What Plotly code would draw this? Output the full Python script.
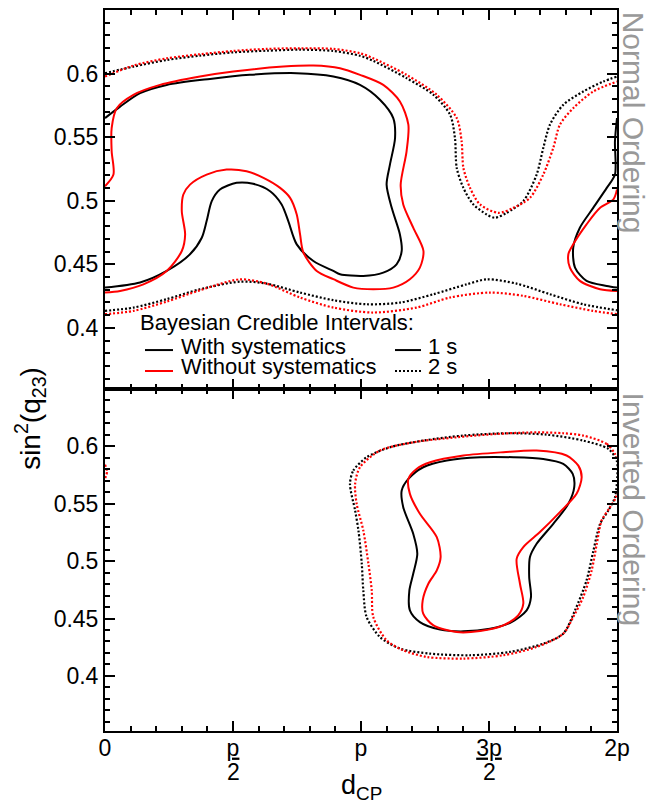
import plotly.graph_objects as go

# delta_CP expressed in units of pi ; y = sin^2(theta23)

# ---------------- Normal ordering ----------------
# with systematics, 1 sigma (main piece + wrap-around piece near 2pi)
no_w1_main_x = [0.0, 0.059, 0.137, 0.241, 0.410, 0.566, 0.749, 0.892, 0.996, 1.074, 1.126, 1.133, 1.113,
                1.100, 1.120, 1.152, 1.159, 1.139, 1.087, 1.009, 0.918, 0.892, 0.814, 0.749, 0.716, 0.690,
                0.645, 0.579, 0.514, 0.449, 0.417, 0.397, 0.378, 0.332, 0.241, 0.137, 0.0]
no_w1_main_y = [0.565, 0.574, 0.5846, 0.5911, 0.5958, 0.5990, 0.6003, 0.5977, 0.5911, 0.5794, 0.5650, 0.5493,
                0.5284, 0.5127, 0.4944, 0.4735, 0.4605, 0.4500, 0.4435, 0.4409, 0.4422, 0.4448, 0.4526,
                0.4657, 0.4840, 0.4971, 0.5075, 0.5133, 0.5141, 0.5088, 0.4997, 0.4840, 0.4709, 0.4579,
                0.4448, 0.4357, 0.4317]
no_w1_wrap_x = [2.0, 1.992, 1.992, 1.960, 1.907, 1.855, 1.829, 1.836, 1.881, 1.960, 2.0]
no_w1_wrap_y = [0.5650, 0.5467, 0.5206, 0.5101, 0.4944, 0.4788, 0.4631, 0.4474, 0.4370, 0.4330, 0.4317]

# without systematics, 1 sigma
no_n1_main_x = [0.0, 0.033, 0.026, 0.026, 0.046, 0.111, 0.215, 0.371, 0.501, 0.697, 0.814, 0.918, 0.996,
                1.087, 1.152, 1.185, 1.178, 1.155, 1.165, 1.204, 1.244, 1.230, 1.191, 1.126, 1.048, 0.970,
                0.892, 0.827, 0.775, 0.762, 0.749, 0.723, 0.684, 0.619, 0.553, 0.475, 0.397, 0.332, 0.306,
                0.300, 0.313, 0.300, 0.241, 0.150, 0.059, 0.0]
no_n1_main_y = [0.5114, 0.5206, 0.5389, 0.5572, 0.5728, 0.5833, 0.5911, 0.5977, 0.6016, 0.6055, 0.6063,
                0.6042, 0.5990, 0.5911, 0.5781, 0.5598, 0.5389, 0.5127, 0.4971, 0.4788, 0.4605, 0.4474,
                0.4383, 0.4317, 0.4304, 0.4317, 0.4383, 0.4448, 0.4592, 0.4735, 0.4892, 0.5023, 0.5101,
                0.5180, 0.5232, 0.5245, 0.5206, 0.5127, 0.5049, 0.4918, 0.4735, 0.4605, 0.4448, 0.4343,
                0.4291, 0.4278]
no_n1_wrap_x = [2.0, 1.986, 1.934, 1.881, 1.829, 1.810, 1.816, 1.855, 1.934, 2.0]
no_n1_wrap_y = [0.5088, 0.5010, 0.4944, 0.4814, 0.4657, 0.4579, 0.4474, 0.4370, 0.4304, 0.4291]

# with systematics, 2 sigma (upper and lower boundaries)
no_w2_up_x = [0.0, 0.111, 0.241, 0.371, 0.501, 0.632, 0.762, 0.892, 0.996, 1.048, 1.178, 1.283, 1.348,
              1.367, 1.374, 1.400, 1.439, 1.491, 1.523, 1.569, 1.634, 1.686, 1.712, 1.738, 1.790, 1.868,
              1.946, 2.0]
no_w2_up_y = [0.6003, 0.6055, 0.6107, 0.6141, 0.6167, 0.6180, 0.6188, 0.6178, 0.6140, 0.6100, 0.5964,
              0.5833, 0.5676, 0.5493, 0.5258, 0.5101, 0.4971, 0.4892, 0.4866, 0.4905, 0.4997, 0.5206,
              0.5415, 0.5598, 0.5754, 0.5859, 0.5937, 0.5977]
no_w2_lo_x = [0.0, 0.111, 0.241, 0.371, 0.527, 0.632, 0.762, 0.892, 1.022, 1.152, 1.283, 1.413, 1.491,
              1.608, 1.738, 1.868, 2.0]
no_w2_lo_y = [0.4134, 0.4160, 0.4226, 0.4304, 0.4364, 0.4348, 0.4278, 0.4218, 0.4186, 0.4199, 0.4265,
              0.4343, 0.4382, 0.4348, 0.4265, 0.4186, 0.4139]

# without systematics, 2 sigma
no_n2_up_x = [0.0, 0.111, 0.241, 0.371, 0.501, 0.632, 0.762, 0.892, 0.996, 1.048, 1.178, 1.296, 1.374,
              1.393, 1.400, 1.426, 1.465, 1.536, 1.595, 1.660, 1.712, 1.751, 1.777, 1.829, 1.907, 2.0]
no_n2_up_y = [0.5977, 0.6063, 0.6120, 0.6152, 0.6178, 0.6194, 0.6199, 0.6194, 0.6160, 0.6120, 0.5990,
              0.5833, 0.5650, 0.5467, 0.5258, 0.5101, 0.4971, 0.4905, 0.4944, 0.5023, 0.5206, 0.5415,
              0.5598, 0.5728, 0.5859, 0.5937]
no_n2_lo_x = [0.0, 0.111, 0.241, 0.371, 0.527, 0.632, 0.762, 0.892, 1.048, 1.217, 1.348, 1.504, 1.634,
              1.777, 1.907, 2.0]
no_n2_lo_y = [0.4108, 0.4134, 0.4207, 0.4296, 0.4382, 0.4348, 0.4239, 0.4160, 0.4121, 0.4160, 0.4239,
              0.4278, 0.4252, 0.4186, 0.4134, 0.4108]

# ---------------- Inverted ordering ----------------
io_w1_x = [1.185, 1.159, 1.165, 1.204, 1.220, 1.204, 1.189, 1.191, 1.230, 1.309, 1.400, 1.504, 1.588,
           1.647, 1.664, 1.657, 1.660, 1.686, 1.751, 1.810, 1.833, 1.827, 1.790, 1.712, 1.595, 1.465,
           1.335, 1.243, 1.185]
io_w1_y = [0.5716, 0.5615, 0.5470, 0.5238, 0.5064, 0.4890, 0.4745, 0.4571, 0.4469, 0.4403, 0.4388,
           0.4411, 0.4469, 0.4571, 0.4687, 0.4861, 0.5035, 0.5151, 0.5325, 0.5499, 0.5644, 0.5760,
           0.5847, 0.5890, 0.5905, 0.5905, 0.5876, 0.5818, 0.5716]
io_n1_x = [1.185, 1.191, 1.230, 1.296, 1.311, 1.296, 1.263, 1.241, 1.243, 1.283, 1.374, 1.465, 1.556,
           1.614, 1.634, 1.621, 1.608, 1.634, 1.699, 1.777, 1.842, 1.862, 1.849, 1.803, 1.686, 1.556,
           1.400, 1.270, 1.217, 1.185]
io_n1_y = [0.5716, 0.5586, 0.5412, 0.5209, 0.5035, 0.4919, 0.4803, 0.4658, 0.4542, 0.4440, 0.4382,
           0.4391, 0.4440, 0.4527, 0.4629, 0.4803, 0.5020, 0.5122, 0.5253, 0.5427, 0.5586, 0.5731,
           0.5832, 0.5920, 0.5963, 0.5949, 0.5920, 0.5861, 0.5803, 0.5716]
io_w2_x = [0.957, 0.970, 1.022, 1.113, 1.243, 1.400, 1.569, 1.725, 1.868, 1.966, 1.999, 2.001, 1.992,
           1.966, 1.934, 1.908, 1.881, 1.836, 1.790, 1.712, 1.582, 1.426, 1.270, 1.152, 1.074, 1.022,
           1.009, 1.003, 0.990, 0.977, 0.957]
io_w2_y = [0.5673, 0.5789, 0.5905, 0.5992, 0.6050, 0.6094, 0.6114, 0.6102, 0.6050, 0.5978, 0.5876,
           0.5731, 0.5557, 0.5441, 0.5325, 0.5093, 0.4832, 0.4571, 0.4368, 0.4281, 0.4209, 0.4180,
           0.4194, 0.4238, 0.4339, 0.4513, 0.4745, 0.4977, 0.5267, 0.5441, 0.5673]
io_n2_x = [1.868, 1.960, 1.992, 2.010, 2.010, 1.996, 1.973, 1.940, 1.921, 1.901, 1.868, 1.829, 1.790,
           1.686, 1.556, 1.400, 1.257, 1.165, 1.100, 1.048, 1.042, 1.029, 1.009, 0.983, 0.977, 0.996,
           1.074, 1.204, 1.374, 1.530, 1.686, 1.790, 1.868]
io_n2_y = [0.6094, 0.6021, 0.5934, 0.5850, 0.5700, 0.5557, 0.5470, 0.5354, 0.5151, 0.4919, 0.4687,
           0.4513, 0.4368, 0.4252, 0.4180, 0.4151, 0.4165, 0.4223, 0.4310, 0.4513, 0.4745, 0.4977,
           0.5267, 0.5499, 0.5673, 0.5818, 0.5963, 0.6035, 0.6079, 0.6108, 0.6122, 0.6114, 0.6094]
io_n2_wrap_x = [0.0, 0.008, 0.0]
io_n2_wrap_y = [0.584, 0.578, 0.572]

# axis ticks
x_tickvals = [0, 0.5, 1, 1.5, 2]
x_ticktext = ["0", "<u>p</u>", "p", "<u>3p</u>", "2p"]
x_frac_denominators = {0.5: "2", 1.5: "2"}
y_tickvals = [0.4, 0.45, 0.5, 0.55, 0.6]
y_ticktext = ["0.4", "0.45", "0.5", "0.55", "0.6"]

FONT = "Liberation Sans, Arial, Helvetica, sans-serif"
BLACK = "#000000"
RED = "#ff0000"
DOT = "2px,2px"


def join(*parts):
    xs, ys = [], []
    for i, (px_, py_) in enumerate(parts):
        if i:
            xs.append(None)
            ys.append(None)
        xs += px_
        ys += py_
    return xs, ys


def add(fig, parts, color, dash, xa, ya):
    xs, ys = join(*parts)
    fig.add_trace(go.Scatter(x=xs, y=ys, mode="lines", xaxis=xa, yaxis=ya, showlegend=False,
                             hoverinfo="skip",
                             line=dict(color=color, width=2 if dash == "solid" else 2.2, dash=dash,
                                       shape="spline", smoothing=0.8)))


fig = go.Figure()
# normal ordering (top panel)
add(fig, [(no_w2_up_x, no_w2_up_y), (no_w2_lo_x, no_w2_lo_y)], BLACK, DOT, "x", "y")
add(fig, [(no_n2_up_x, no_n2_up_y), (no_n2_lo_x, no_n2_lo_y)], RED, DOT, "x", "y")
add(fig, [(no_w1_main_x, no_w1_main_y), (no_w1_wrap_x, no_w1_wrap_y)], BLACK, "solid", "x", "y")
add(fig, [(no_n1_main_x, no_n1_main_y), (no_n1_wrap_x, no_n1_wrap_y)], RED, "solid", "x", "y")
# inverted ordering (bottom panel)
add(fig, [(io_w2_x, io_w2_y)], BLACK, DOT, "x2", "y2")
add(fig, [(io_n2_x, io_n2_y), (io_n2_wrap_x, io_n2_wrap_y)], RED, DOT, "x2", "y2")
add(fig, [(io_w1_x, io_w1_y)], BLACK, "solid", "x2", "y2")
add(fig, [(io_n1_x, io_n1_y)], RED, "solid", "x2", "y2")

tickfont = dict(family=FONT, size=23, color="black")
common_axis = dict(showline=True, linewidth=2, linecolor="black", mirror="allticks", ticks="inside",
                   ticklen=10, tickwidth=1.5, tickcolor="black", showgrid=False, zeroline=False,
                   tickfont=tickfont)
xaxis_common = dict(common_axis, range=[0, 2], tickvals=x_tickvals, ticktext=x_ticktext,
                    minor=dict(dtick=0.1, tick0=0, ticks="inside", ticklen=5, tickwidth=1.5,
                               tickcolor="black", showgrid=False))
yaxis_common = dict(common_axis, range=[0.352, 0.65], tickvals=y_tickvals, ticktext=y_ticktext,
                    minor=dict(dtick=0.01, tick0=0.4, ticks="inside", ticklen=5, tickwidth=1.5,
                               tickcolor="black", showgrid=False))

split = 0.4744
fig.update_layout(
    width=664, height=806,
    margin=dict(l=105, r=47, t=8, b=75),
    paper_bgcolor="white", plot_bgcolor="white",
    font=dict(family=FONT, color="black"),
    xaxis=dict(xaxis_common, domain=[0, 1], anchor="y", showticklabels=False),
    yaxis=dict(yaxis_common, domain=[split, 1], anchor="x"),
    xaxis2=dict(xaxis_common, domain=[0, 1], anchor="y2", ticklabelstandoff=-5),
    yaxis2=dict(yaxis_common, domain=[0, split], anchor="x2"),
)

L, W, B, H = 105, 512, 731, 723  # plot-area pixel frame, used to place annotations


def px(x):
    return (x - L) / W


def py(y):
    return (B - y) / H


ann = []
ann.append(dict(text="Bayesian Credible Intervals:", x=px(138), y=py(321), xanchor="left", yanchor="middle"))
ann.append(dict(text="With systematics", x=px(179), y=py(345), xanchor="left", yanchor="middle"))
ann.append(dict(text="Without systematics", x=px(179), y=py(365), xanchor="left", yanchor="middle"))
ann.append(dict(text="1 s", x=px(426), y=py(345), xanchor="left", yanchor="middle"))
ann.append(dict(text="2 s", x=px(426), y=py(365), xanchor="left", yanchor="middle"))
for a in ann:
    a.update(xref="paper", yref="paper", showarrow=False, font=dict(family=FONT, size=22, color="black"))

# denominators of the fractional tick labels
for xv, den in x_frac_denominators.items():
    ann.append(dict(text=den, x=xv, xref="x2", y=py(772), yref="paper", showarrow=False,
                    xanchor="center", yanchor="middle", font=dict(family=FONT, size=23, color="black")))

ann.append(dict(text="Normal Ordering", x=px(633), y=py(121), xref="paper", yref="paper", showarrow=False,
                textangle=90, xanchor="center", yanchor="middle",
                font=dict(family=FONT, size=30, color="#999999")))
ann.append(dict(text="Inverted Ordering", x=px(633), y=py(508), xref="paper", yref="paper", showarrow=False,
                textangle=90, xanchor="center", yanchor="middle",
                font=dict(family=FONT, size=30, color="#999999")))
ann.append(dict(text="sin<sup>2</sup>(q<sub>23</sub>)", x=px(30), y=py(418), xref="paper", yref="paper",
                showarrow=False, textangle=-90, xanchor="center", yanchor="middle",
                font=dict(family=FONT, size=28, color="black")))
ann.append(dict(text="d<sub>CP</sub>", x=px(361), y=py(787), xref="paper", yref="paper",
                showarrow=False, xanchor="center", yanchor="middle",
                font=dict(family=FONT, size=27, color="black")))
fig.update_layout(annotations=ann)

# legend key samples
keys = [(145, 173, 349, BLACK, "solid"), (145, 173, 370, RED, "solid"),
        (395, 421, 349, BLACK, "solid"), (395, 421, 370, BLACK, DOT)]
for x0, x1, yy, c, d in keys:
    fig.add_shape(type="line", xref="paper", yref="paper", x0=px(x0), x1=px(x1), y0=py(yy), y1=py(yy),
                  line=dict(color=c, width=2, dash=d))

fig.write_html("out.html")
